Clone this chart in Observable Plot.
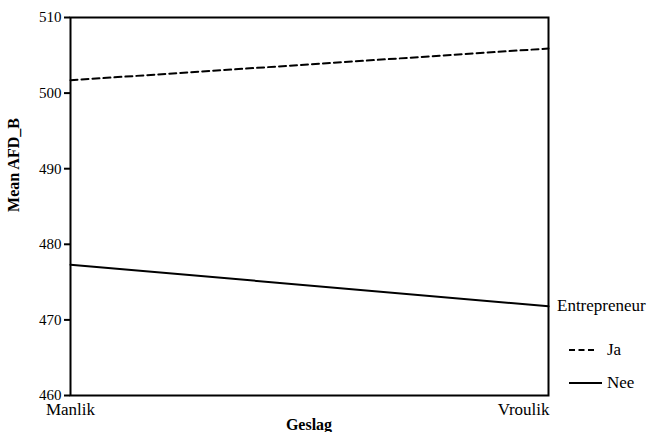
<!DOCTYPE html>
<html><head><meta charset="utf-8">
<script src="https://cdn.jsdelivr.net/npm/d3@7"></script>
<script src="https://cdn.jsdelivr.net/npm/@observablehq/plot@0.6"></script>
<style>
body{margin:0;background:#fff}
#chart svg, #chart svg text{font-family:"Liberation Serif","DejaVu Serif",serif !important;}
</style>
</head><body><div id="chart"></div>
<script>
const categories = ["Manlik", "Vroulik"];
const jaValues = [501.7, 505.9];
const neeValues = [477.3, 471.8];
const yTicks = [460, 470, 480, 490, 500, 510];
const seriesNames = ["Ja", "Nee"];

const rows = [];
categories.forEach((c, i) => {
  rows.push({g: c, v: jaValues[i], s: "Ja"});
  rows.push({g: c, v: neeValues[i], s: "Nee"});
});

const font = "Liberation Serif, serif";
const plot = Plot.plot({
  width: 650, height: 432,
  marginLeft: 70, marginRight: 102, marginTop: 17, marginBottom: 37,
  style: {fontFamily: font, fontSize: "15px", background: "#fff", color: "#000", overflow: "visible"},
  x: {type: "point", domain: categories, padding: 0, axis: null},
  y: {domain: [460, 510], ticks: yTicks, label: null},
  marks: [
    Plot.frame({stroke: "#000", strokeWidth: 2}),
    Plot.axisY({ticks: yTicks, tickSize: 6, tickPadding: 3, strokeWidth: 2, fontSize: 15, label: null}),
    Plot.line(rows.filter(d => d.s === "Ja"), {x: "g", y: "v", stroke: "#000", strokeWidth: 2, strokeDasharray: "7,4"}),
    Plot.line(rows.filter(d => d.s === "Nee"), {x: "g", y: "v", stroke: "#000", strokeWidth: 2}),
    Plot.text([categories[0]], {x: d => d, frameAnchor: "bottom", dy: 19, text: d => d, textAnchor: "middle", fontSize: 17}),
    Plot.text([categories[1]], {x: d => d, frameAnchor: "bottom", dy: 19, dx: 1, text: d => d, textAnchor: "end", fontSize: 17})
  ]
});
document.getElementById("chart").append(plot);

const svg = d3.select(plot);
svg.append("text").attr("x", 309).attr("y", 430).attr("text-anchor", "middle")
  .attr("font-weight", "bold").attr("font-size", 16).text("Geslag");
svg.append("text").attr("transform", "translate(19,165) rotate(-90)").attr("text-anchor", "middle")
  .attr("font-weight", "bold").attr("font-size", 16).text("Mean AFD_B");
svg.append("text").attr("x", 557).attr("y", 311).attr("text-anchor", "start")
  .attr("font-size", 17).text("Entrepreneur");
seriesNames.forEach((n, i) => {
  const y = i === 0 ? 350 : 383;
  svg.append("line").attr("x1", 569).attr("x2", n === "Ja" ? 594 : 602).attr("y1", y).attr("y2", y)
    .attr("stroke", "#000").attr("stroke-width", 2).attr("stroke-dasharray", n === "Ja" ? "6,3.5" : null);
  svg.append("text").attr("x", 607).attr("y", y + 5).attr("text-anchor", "start")
    .attr("font-size", 17).text(n);
});
</script></body></html>
